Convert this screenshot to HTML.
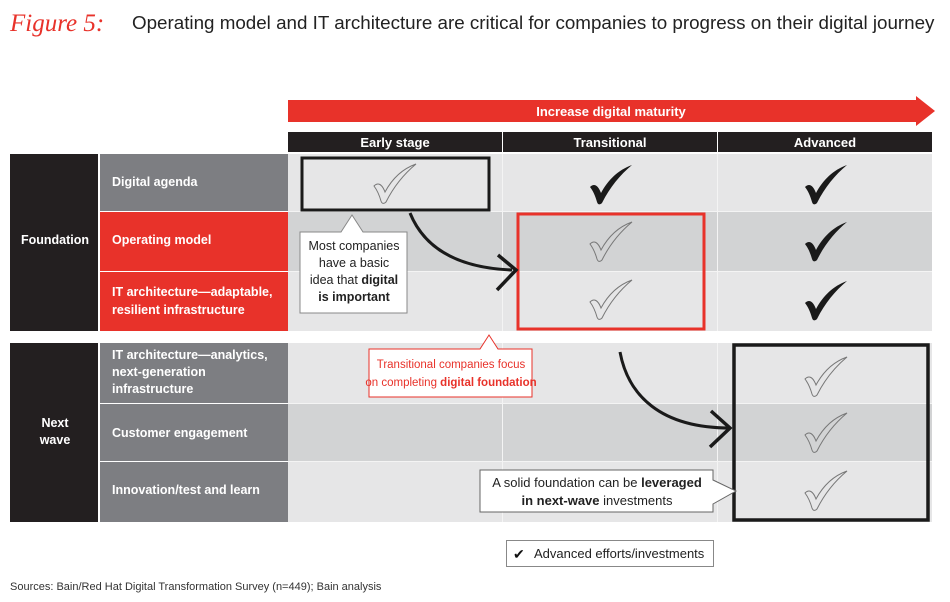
<!DOCTYPE html>
<html><head><meta charset="utf-8"><style>
body{margin:0;background:#fff;width:950px;height:602px;overflow:hidden;font-family:"Liberation Sans",sans-serif}
svg{display:block}
</style></head><body>
<svg width="950" height="602" viewBox="0 0 950 602" xmlns="http://www.w3.org/2000/svg" font-family="Liberation Sans, sans-serif">
<defs>
<path id="ck" d="M2,22 C6,18 10,20 13,28 C20,15 30,5 44,0 C32,10 22,22 14,38 C12,40 10,40 9,37 C7,30 5,26 2,22 Z"/>
</defs>
<text x="10" y="31" fill="#e8322a" font-family="Liberation Serif, serif" font-style="italic" font-size="25">Figure 5:</text>
<text x="132" y="29" fill="#222" font-size="18.8">Operating model and IT architecture are critical for companies to progress on their digital journey</text>
<rect x="288" y="100" width="630" height="22" fill="#e8322a"/>
<polygon points="916,96 935,111 916,126" fill="#e8322a"/>
<text x="611" y="116" fill="#fff" font-size="13" font-weight="bold" text-anchor="middle">Increase digital maturity</text>
<rect x="288" y="132" width="644" height="20" fill="#231f20"/>
<line x1="502.5" y1="132" x2="502.5" y2="152" stroke="#fff"/>
<line x1="717.5" y1="132" x2="717.5" y2="152" stroke="#fff"/>
<g fill="#fff" font-size="13" font-weight="bold" text-anchor="middle">
<text x="395" y="147">Early stage</text><text x="610" y="147">Transitional</text><text x="825" y="147">Advanced</text></g>
<rect x="288" y="154" width="644" height="177" fill="#e6e6e7"/>
<rect x="288" y="212" width="644" height="59" fill="#d2d3d4"/>
<line x1="288" y1="211.5" x2="932" y2="211.5" stroke="#f4f4f4"/>
<line x1="288" y1="271.5" x2="932" y2="271.5" stroke="#f4f4f4"/>
<rect x="288" y="343" width="644" height="179" fill="#e6e6e7"/>
<rect x="288" y="404" width="644" height="57" fill="#d2d3d4"/>
<line x1="288" y1="403.5" x2="932" y2="403.5" stroke="#f4f4f4"/>
<line x1="288" y1="461.5" x2="932" y2="461.5" stroke="#f4f4f4"/>
<g stroke="#f4f4f4"><line x1="502.5" y1="154" x2="502.5" y2="522"/><line x1="717.5" y1="154" x2="717.5" y2="522"/></g>
<rect x="288" y="331" width="644" height="12" fill="#fff"/>
<rect x="10" y="154" width="88" height="177" fill="#231f20"/>
<rect x="10" y="343" width="88" height="179" fill="#231f20"/>
<rect x="100" y="154" width="188" height="57" fill="#7d7e82"/>
<rect x="100" y="212" width="188" height="59" fill="#e8322a"/>
<rect x="100" y="272" width="188" height="59" fill="#e8322a"/>
<rect x="100" y="343" width="188" height="60" fill="#7d7e82"/>
<rect x="100" y="404" width="188" height="57" fill="#7d7e82"/>
<rect x="100" y="462" width="188" height="60" fill="#7d7e82"/>
<g fill="#fff" font-size="12.5" font-weight="bold">
<text x="21" y="244">Foundation</text>
<text x="55" y="427" text-anchor="middle">Next</text><text x="55" y="444" text-anchor="middle">wave</text>
<text x="112" y="186">Digital agenda</text>
<text x="112" y="244">Operating model</text>
<text x="112" y="296">IT architecture—adaptable,</text><text x="112" y="314">resilient infrastructure</text>
<text x="112" y="359">IT architecture—analytics,</text><text x="112" y="376">next-generation</text><text x="112" y="393">infrastructure</text>
<text x="112" y="437">Customer engagement</text>
<text x="112" y="494">Innovation/test and learn</text>
</g>
<use href="#ck" x="588" y="165" fill="#1a1a1a"/>
<use href="#ck" x="803" y="165" fill="#1a1a1a"/>
<use href="#ck" x="803" y="222" fill="#1a1a1a"/>
<use href="#ck" x="803" y="281" fill="#1a1a1a"/>
<g fill="none" stroke="#777" stroke-width="1">
<use href="#ck" x="372" y="164"/>
<use href="#ck" x="588" y="222"/>
<use href="#ck" x="588" y="280"/>
<use href="#ck" x="803" y="357"/>
<use href="#ck" x="803" y="413"/>
<use href="#ck" x="803" y="471"/>
</g>
<rect x="302" y="158" width="187" height="52" fill="none" stroke="#1a1a1a" stroke-width="3"/>
<rect x="518" y="214" width="186" height="115" fill="none" stroke="#e8322a" stroke-width="3"/>
<rect x="734" y="345" width="194" height="175" fill="none" stroke="#1a1a1a" stroke-width="3.5"/>
<path d="M410,213 C425,250 460,268 512,270" fill="none" stroke="#1a1a1a" stroke-width="3"/>
<path d="M498,255 L516,270 L497,290" fill="none" stroke="#1a1a1a" stroke-width="3.5"/>
<path d="M620,352 C628,395 660,428 730,428" fill="none" stroke="#1a1a1a" stroke-width="3"/>
<path d="M711,411 L730,428 L710,447" fill="none" stroke="#1a1a1a" stroke-width="3.5"/>
<path d="M300,232 L341,232 L352,215 L363,232 L407,232 L407,313 L300,313 Z" fill="#fff" stroke="#888"/>
<g font-size="12.5" fill="#222" text-anchor="middle">
<text x="354" y="250">Most companies</text><text x="354" y="267">have a basic</text>
<text x="354" y="284">idea that <tspan font-weight="bold">digital</tspan></text>
<text x="354" y="301" font-weight="bold">is important</text></g>
<path d="M369,349 L480,349 L489,335 L498,349 L532,349 L532,397 L369,397 Z" fill="#fff" stroke="#e8322a"/>
<g font-size="11.5" fill="#e8322a" text-anchor="middle">
<text x="451" y="368">Transitional companies focus</text>
<text x="451" y="386">on completing <tspan font-weight="bold">digital foundation</tspan></text></g>
<path d="M480,470 L713,470 L713,480 L736,491 L713,504 L713,512 L480,512 Z" fill="#fff" stroke="#666"/>
<g font-size="13" fill="#222" text-anchor="middle">
<text x="597" y="487">A solid foundation can be <tspan font-weight="bold">leveraged</tspan></text>
<text x="597" y="505"><tspan font-weight="bold">in next-wave</tspan> investments</text></g>
<rect x="506.5" y="540.5" width="207" height="26" fill="#fff" stroke="#888"/>
<text x="513" y="559" font-size="14" fill="#111">✔</text>
<text x="534" y="558" font-size="13" fill="#222">Advanced efforts/investments</text>
<text x="10" y="590" font-size="11" fill="#333">Sources: Bain/Red Hat Digital Transformation Survey (n=449); Bain analysis</text>
</svg>
</body></html>
